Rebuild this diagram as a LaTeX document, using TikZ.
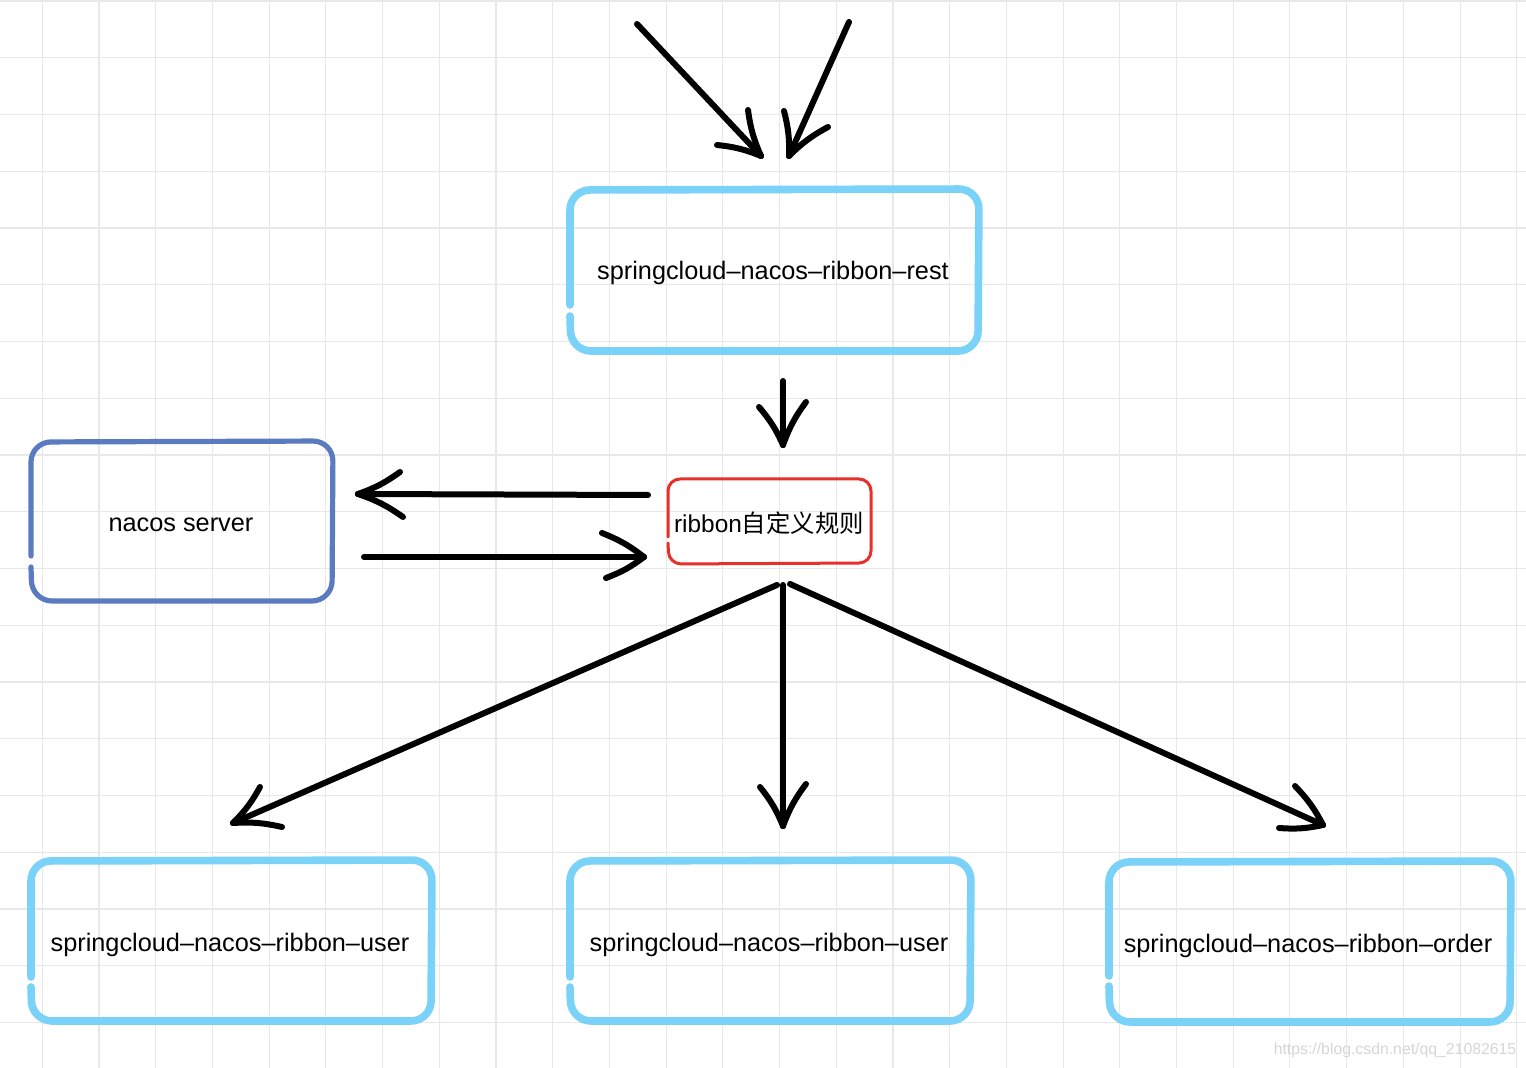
\documentclass[tikz,border=0pt]{standalone}
\usepackage{fontspec}
\setmainfont{Liberation Sans}
\newfontfamily\cjk{Noto Sans CJK SC}
\definecolor{lblue}{HTML}{7BD2F8}
\definecolor{dblue}{HTML}{5A7BC0}
\definecolor{rred}{HTML}{E8302A}
\definecolor{gridc}{HTML}{E8E8E8}
\definecolor{wmark}{HTML}{D6D6D6}
\begin{document}
\begin{tikzpicture}[x=0.5pt,y=-0.5pt,
  gridline/.style={draw=gridc,line width=0.55pt},
  handbox/.style={line cap=round,line join=round,rounded corners=10pt},
  lbbox/.style={handbox,draw=lblue,line width=3.8pt},
  nsbox/.style={handbox,draw=dblue,line width=2.6pt},
  rdbox/.style={handbox,draw=rred,line width=1.5pt,rounded corners=6pt},
  txt/.style={font=\fontsize{12.65pt}{14pt}\selectfont,inner sep=0pt},
  arr/.style={draw=black,line width=3pt,line cap=round,line join=round},
  barb/.style={draw=black,line width=3pt,line cap=round}]
\useasboundingbox (0,0) rectangle (1526,1068);
\fill[white] (0,0) rectangle (1526,1068);
% grid
\foreach \k in {0,...,26} \draw[gridline] ({42.3+56.71*\k},0) -- ({42.3+56.71*\k},1068);
\foreach \k in {0,...,18} \draw[gridline] (0,{1+56.75*\k}) -- (1526,{1+56.75*\k});

% boxes
\draw[lbbox] (570,316) -- (571,351) -- (978,351) -- (979,189) -- (570,190) -- (570,305);
\draw[nsbox] (31,567) -- (32,601) -- (332,601) -- (333,441) -- (31,442) -- (31,556);
\draw[rdbox] (668,543) -- (669,564) -- (871,563) -- (871,479) -- (668,479) -- (668,537);
\draw[lbbox] (31,987) -- (32,1021) -- (431,1021) -- (432,860) -- (31,861) -- (31,977);
\draw[lbbox] (570,987) -- (571,1021) -- (970,1021) -- (971,860) -- (570,861) -- (570,977);
\draw[lbbox] (1109,986) -- (1110,1022) -- (1510,1022) -- (1511,861) -- (1109,862) -- (1109,976);

% texts
\node[txt] (rest) at (773,273) {springcloud–nacos–ribbon–rest};
\node[txt] (nacos) at (181,525) {nacos server};
\node[txt,font=\fontsize{12.2pt}{14pt}\selectfont] (rule) at (769,523) {ribbon{\cjk 自定义规则}};
\node[txt] (user1) at (230,945) {springcloud–nacos–ribbon–user};
\node[txt] (user2) at (769,945) {springcloud–nacos–ribbon–user};
\node[txt] (order) at (1308,946) {springcloud–nacos–ribbon–order};
\node[font=\fontsize{7.9pt}{9pt}\selectfont,text=wmark,inner sep=0pt] (wm) at (1395,1050) {https://blog.csdn.net/qq\_21082615};

% arrow coordinates
\coordinate (a1s) at (637,24);   \coordinate (a1t) at (761,156);
\coordinate (a1b) at (717,145);  \coordinate (a1c) at (748,110);
\coordinate (a2s) at (849,22);   \coordinate (a2t) at (789,156);
\coordinate (a2b) at (784,111);  \coordinate (a2c) at (828,127);
\coordinate (a3s) at (783,381);  \coordinate (a3t) at (783,445);
\coordinate (a3b) at (759,407);  \coordinate (a3c) at (806,402);
\coordinate (a4s) at (648,495);  \coordinate (a4t) at (358,494);
\coordinate (a4b) at (400,472);  \coordinate (a4c) at (403,517);
\coordinate (a5s) at (364,557);  \coordinate (a5t) at (644,557);
\coordinate (a5b) at (602,533);  \coordinate (a5c) at (606,578);
\coordinate (a6s) at (777,585);  \coordinate (a6t) at (233,823);
\coordinate (a6b) at (260,787);  \coordinate (a6c) at (282,827);
\coordinate (a7s) at (783,585);  \coordinate (a7t) at (783,826);
\coordinate (a7b) at (760,787);  \coordinate (a7c) at (806,784);
\coordinate (a8s) at (790,584);  \coordinate (a8t) at (1323,825);
\coordinate (a8b) at (1295,786); \coordinate (a8c) at (1279,828);

\foreach \a in {a1,a2,a3,a4,a5,a6,a7,a8}{
  \draw[arr] (\a s) -- (\a t);
  \draw[barb] (\a b) to[bend left=8] (\a t);
  \draw[barb] (\a c) to[bend right=8] (\a t);
}
\end{tikzpicture}
\end{document}
